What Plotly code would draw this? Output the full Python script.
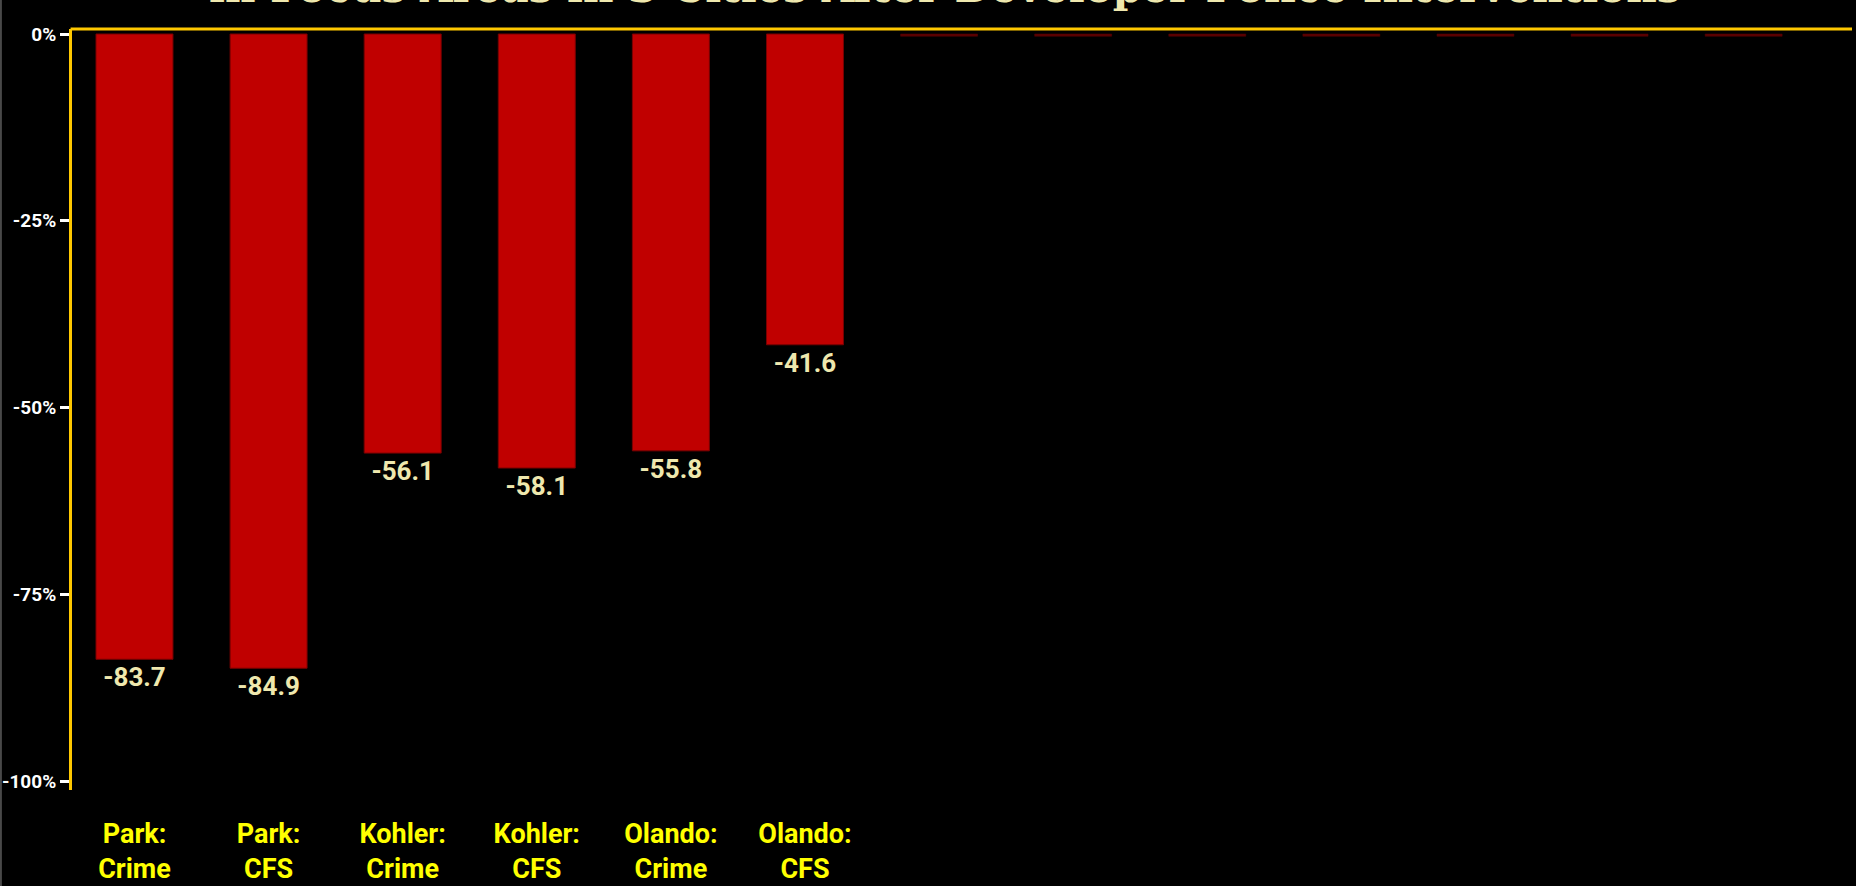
import plotly.graph_objects as go

# ---- data ----
bar_labels = ["Park:<br>Crime", "Park:<br>CFS", "Kohler:<br>Crime", "Kohler:<br>CFS",
              "Olando:<br>Crime", "Olando:<br>CFS"]
pct_change = [-83.7, -84.9, -56.1, -58.1, -55.8, -41.6]
blank_slots = ["", "", "", "", "", "", ""]
blank_vals = [-0.3, -0.3, -0.3, -0.3, -0.3, -0.3, -0.3]
y_tick_vals = [0, -25, -50, -75, -100]
y_tick_text = ["0%", "-25%", "-50%", "-75%", "-100%"]
title_text = "in Focus Areas in 3 Cities After Developer Police Interventions"

SANS = "Roboto, Liberation Sans, Arial, sans-serif"
CREAM = "#EFE8AE"

n_main = len(bar_labels)
x_main = list(range(n_main))
x_blank = list(range(n_main, n_main + len(blank_slots)))

fig = go.Figure()
fig.add_trace(go.Bar(
    x=x_main, y=pct_change, width=0.574,
    marker=dict(color="#C00000", line=dict(color="#7A0000", width=1)),
    text=[f"{v:.1f}" for v in pct_change], textposition="outside",
    textfont=dict(family=SANS, size=26, color=CREAM, weight="bold"),
    constraintext="none", cliponaxis=False, hoverinfo="skip", showlegend=False,
))
fig.add_trace(go.Bar(
    x=x_blank, y=blank_vals, width=0.574,
    marker=dict(color="#5A0000", line=dict(color="#5A0000", width=0.5)),
    hoverinfo="skip", showlegend=False,
))

fig.update_layout(
    width=1856, height=886,
    paper_bgcolor="black", plot_bgcolor="black",
    margin=dict(l=72, r=4, t=29, b=96, autoexpand=False),
    bargap=0.43,
    xaxis=dict(
        range=[-0.466, 12.808], showgrid=False, zeroline=False, showline=False,
        tickvals=x_main + x_blank, ticktext=bar_labels + blank_slots,
        tickfont=dict(family=SANS, size=27, color="#FFFF00", weight="bold"),
        ticks="", ticklabelstandoff=25, automargin=False,
    ),
    yaxis=dict(
        range=[-101.2, 0.67], showgrid=False, zeroline=False,
        showline=True, linecolor="#FFC800", linewidth=3,
        tickvals=y_tick_vals, ticktext=y_tick_text,
        ticks="outside", ticklen=9, tickwidth=3, tickcolor="white",
        tickfont=dict(family=SANS, size=19, color="white", weight="bold"),
        ticklabelstandoff=0, automargin=False,
    ),
    shapes=[
        dict(type="line", xref="paper", yref="paper", x0=-0.0008, x1=1.0, y0=1.0, y1=1.0,
             line=dict(color="#FFC800", width=3)),
        dict(type="line", xref="paper", yref="paper", x0=-0.0399, x1=-0.0399, y0=-0.13, y1=1.04,
             line=dict(color="#8A8A8A", width=1)),
    ],
    annotations=[
        dict(text=title_text, xref="paper", yref="paper", x=0.49, y=1.02,
             xanchor="center", yanchor="bottom", showarrow=False,
             font=dict(family="DejaVu Serif, serif", size=42, color=CREAM, weight="bold")),
    ],
)

fig.write_html(
    "out.html",
    config={"displayModeBar": False},
    post_script="document.body.style.margin='0';document.body.style.background='black';"
                "document.body.style.overflow='hidden';",
)
